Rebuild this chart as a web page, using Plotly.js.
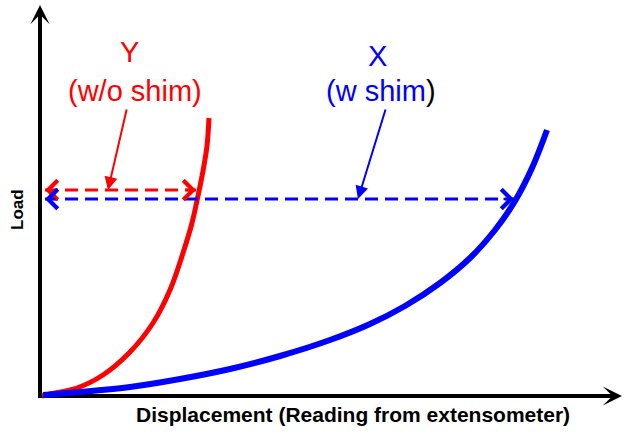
<!DOCTYPE html>
<html>
<head>
<meta charset="utf-8">
<script src="https://cdn.plot.ly/plotly-3.0.1.min.js"></script>
<style>html,body{margin:0;padding:0;background:#fff;}#chart{width:626px;height:435px;}</style>
</head>
<body>
<div id="chart"></div>
<script>
// Load–displacement curves (arbitrary units)
const redX  = [2, 10, 37, 63, 90, 113, 130, 143, 152, 158, 163, 167, 169];
const redY  = [0, 2, 8, 21, 44, 73, 106, 143, 173, 200, 225, 250, 278];
const blueX = [3, 40, 90, 140, 190, 240, 290, 330, 365, 400, 430, 455, 475, 492, 507];
const blueY = [1, 4, 9, 17, 27, 40, 56, 72, 90, 113, 138, 166, 195, 228, 266];

// Reference load levels and the displacement reached at them
const refLoad  = [206, 197];      // Y (red), X (blue)
const refStart = [5, 5];
const refDisp  = [156, 474];
const seriesNames = ['Y', 'X'];
const seriesSub   = ['(w/o shim)', '(w shim<span style="color:black">)</span>'];
const colors = ['#ff0000', '#0000ff'];

const xTitle = 'Displacement (Reading from extensometer)';
const yTitle = 'Load';

const traces = [
  {x: redX, y: redY, mode: 'lines', line: {color: colors[0], width: 5, shape: 'spline', smoothing: 1}, hoverinfo: 'skip'},
  {x: blueX, y: blueY, mode: 'lines', line: {color: colors[1], width: 6, shape: 'spline', smoothing: 1}, hoverinfo: 'skip'},
];
for (let i = 0; i < 2; i++) {
  traces.push({x: [refStart[i], refDisp[i]], y: [refLoad[i], refLoad[i]], mode: 'lines',
    line: {color: colors[i], width: 3, dash: '13px,7px'}, hoverinfo: 'skip'});
}

const fontFam = 'Liberation Sans, Arial, sans-serif';
const ann = [];
// dashed double-arrow heads
for (let i = 0; i < 2; i++) {
  ann.push({x: refStart[i], y: refLoad[i], xref: 'x', yref: 'y', ax: 12, ay: 0, showarrow: true,
    arrowhead: 4, arrowsize: 1.5, arrowwidth: 2.5, arrowcolor: colors[i], text: ''});
  ann.push({x: refDisp[i], y: refLoad[i], xref: 'x', yref: 'y', ax: -12, ay: 0, showarrow: true,
    arrowhead: 4, arrowsize: 1.5, arrowwidth: 2.5, arrowcolor: colors[i], text: ''});
}
// pointer arrows from labels
ann.push({x: 68, y: refLoad[0], xref: 'x', yref: 'y', axref: 'x', ayref: 'y', ax: 87, ay: 288,
  showarrow: true, arrowhead: 2, arrowsize: 1.3, arrowwidth: 2, arrowcolor: colors[0], text: ''});
ann.push({x: 318, y: refLoad[1], xref: 'x', yref: 'y', axref: 'x', ayref: 'y', ax: 346, ay: 288,
  showarrow: true, arrowhead: 2, arrowsize: 1.3, arrowwidth: 2, arrowcolor: colors[1], text: ''});
// labels
const lblX = [89, 337], lblX2 = [95, 341], lblY = [344, 340];
for (let i = 0; i < 2; i++) {
  ann.push({x: lblX[i], y: lblY[i], xref: 'x', yref: 'y', text: seriesNames[i], showarrow: false,
    font: {family: fontFam, size: 29, color: colors[i]}, xanchor: 'center', yanchor: 'middle'});
  ann.push({x: lblX2[i], y: 305, xref: 'x', yref: 'y', text: seriesSub[i], showarrow: false,
    font: {family: fontFam, size: 29, color: colors[i]}, xanchor: 'center', yanchor: 'middle'});
}
// axis arrow heads
ann.push({x: 0, y: 391, xref: 'x', yref: 'y', ax: 0, ay: 30, showarrow: true, arrowhead: 3,
  arrowsize: 0.8, arrowwidth: 4, arrowcolor: '#000', text: ''});
ann.push({x: 582, y: 0, xref: 'x', yref: 'y', ax: -30, ay: 0, showarrow: true, arrowhead: 3,
  arrowsize: 0.8, arrowwidth: 4, arrowcolor: '#000', text: ''});
// axis titles
ann.push({x: 313, y: -18, xref: 'x', yref: 'y', text: xTitle, showarrow: false,
  font: {family: fontFam, size: 21, color: '#000', weight: 'bold'}, xanchor: 'center', yanchor: 'middle'});
ann.push({x: -23, y: 186, xref: 'x', yref: 'y', text: yTitle, showarrow: false, textangle: -90,
  font: {family: fontFam, size: 17, color: '#000', weight: 'bold'}, xanchor: 'center', yanchor: 'middle'});

const layout = {
  width: 626, height: 435,
  margin: {l: 0, r: 0, t: 0, b: 0},
  paper_bgcolor: '#fff', plot_bgcolor: '#fff',
  showlegend: false,
  xaxis: {range: [-40, 586], visible: false, fixedrange: true},
  yaxis: {range: [-39, 396], visible: false, fixedrange: true},
  shapes: [
    {type: 'line', xref: 'x', yref: 'y', x0: 0, y0: -2, x1: 0, y1: 375, layer: 'below', line: {color: '#000', width: 4}},
    {type: 'line', xref: 'x', yref: 'y', x0: -2, y0: 0, x1: 566, y1: 0, layer: 'below', line: {color: '#000', width: 4}},
  ],
  annotations: ann,
};

Plotly.newPlot('chart', traces, layout, {staticPlot: true, displayModeBar: false});
</script>
</body>
</html>
